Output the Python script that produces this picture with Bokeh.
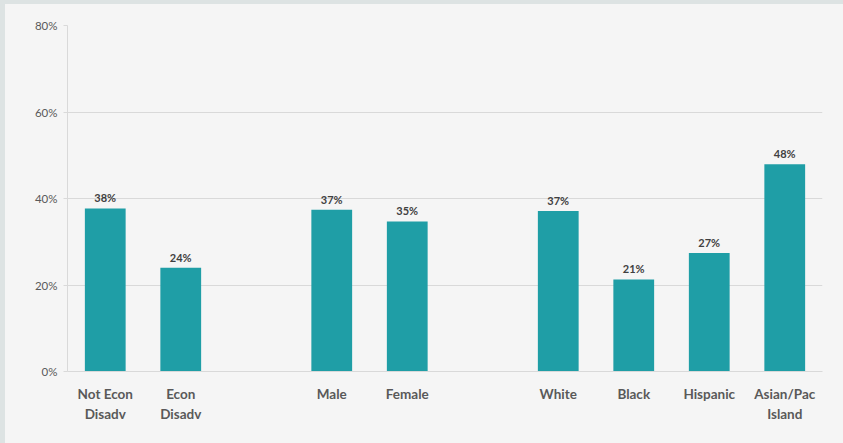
import re
from bokeh.plotting import figure
from bokeh.models import ColumnDataSource, FixedTicker, Range1d
from bokeh.embed import file_html
from bokeh.resources import INLINE
from bokeh.core.properties import value

# Data
categories = ["Not Econ\nDisadv", "Econ\nDisadv", "Male", "Female",
              "White", "Black", "Hispanic", "Asian/Pac\nIsland"]
slots = [0, 1, 3, 4, 6, 7, 8, 9]          # slot index of each category (groups separated by blank slots)
values = [37.7, 24.0, 37.4, 34.7, 37.1, 21.3, 27.4, 47.9]
labels = ["38%", "24%", "37%", "35%", "37%", "21%", "27%", "48%"]
y_ticks = [0, 20, 40, 60, 80]

FONT = "Lato"
xs = [s + 0.5 for s in slots]
src = ColumnDataSource(dict(x=xs, top=values, label=labels))

p = figure(width=838, height=439, output_backend="svg", toolbar_location=None,
           x_range=Range1d(0, 10), y_range=Range1d(0, 80),
           min_border_left=62, min_border_right=21, min_border_top=21, min_border_bottom=72)
p.background_fill_color = "#f5f5f5"
p.border_fill_color = "#f5f5f5"
p.outline_line_color = None
p.styles = {"margin-left": "5px", "margin-top": "4px"}

p.vbar(x="x", top="top", width=0.54, bottom=0, source=src, color="#1f9ea6", line_color=None)
p.text(x="x", y="top", text="label", source=src, text_align="center", text_baseline="bottom",
       y_offset=-4, text_font=value(FONT), text_font_style="bold", text_font_size="11px",
       text_color="#404040")

# y axis
p.yaxis.ticker = FixedTicker(ticks=y_ticks)
p.yaxis.major_label_overrides = {t: f"{t}%" for t in y_ticks}
p.yaxis.axis_line_color = "#d9d9d9"
p.yaxis.major_tick_line_color = "#d9d9d9"
p.yaxis.major_tick_out = 4
p.yaxis.major_tick_in = 0
p.yaxis.minor_tick_line_color = None
p.yaxis.major_label_standoff = 6
p.yaxis.major_label_text_font = FONT
p.yaxis.major_label_text_font_size = "11.5px"
p.yaxis.major_label_text_color = "#595959"

# x axis
p.xaxis.ticker = FixedTicker(ticks=xs)
p.xaxis.major_label_overrides = {x: c for x, c in zip(xs, categories)}
p.xaxis.axis_line_color = "#d9d9d9"
p.xaxis.major_tick_line_color = None
p.xaxis.minor_tick_line_color = None
p.xaxis.major_label_standoff = 8
p.xaxis.major_label_text_font = FONT
p.xaxis.major_label_text_font_style = "bold"
p.xaxis.major_label_text_font_size = "13.5px"
p.xaxis.major_label_text_color = "#595959"
p.xaxis.major_label_text_line_height = 1.25

p.xgrid.grid_line_color = None
p.ygrid.ticker = FixedTicker(ticks=y_ticks)
p.ygrid.grid_line_color = "#d9d9d9"
p.ygrid.grid_line_width = 1

html = file_html(p, INLINE)
css = ("<style>html{background:#f5f5f5 !important;} "
       "body{background:transparent !important;} "
       "html::before{content:'';position:fixed;left:0;top:0;width:5px;height:100vh;background:#dde3e3;} "
       "html::after{content:'';position:fixed;left:0;top:0;width:100vw;height:4px;background:#dde3e3;}</style>")
html = html.replace("</head>", css + "</head>", 1)
open("out.html", "w").write(html)
